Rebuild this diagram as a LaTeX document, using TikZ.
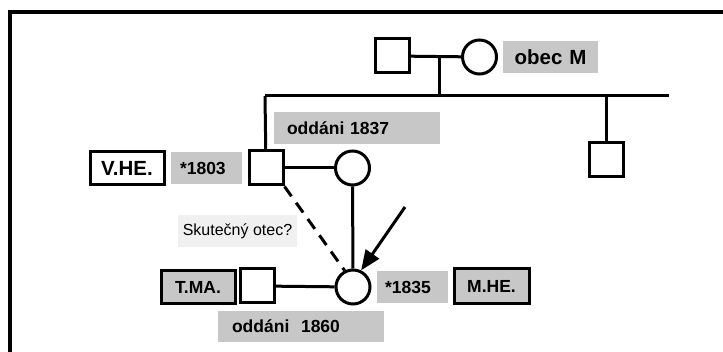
\documentclass[tikz,border=0pt]{standalone}
\usepackage{fontspec}
\setmainfont{Liberation Sans}
\usepackage{tikz}
\usetikzlibrary{arrows.meta,positioning,calc}

\begin{document}
\begin{tikzpicture}[
 x=1pt,y=-1pt,font=\fontsize{17.5}{20}\selectfont\bfseries,
 line width=3pt,
 male/.style={draw,rectangle,minimum size=34pt,inner sep=0pt},
 female/.style={draw,circle,minimum size=34pt,inner sep=0pt},
 tag/.style={fill=black!22,align=left,inner xsep=10pt,inner ysep=0pt,minimum height=32pt},
 namebox/.style={draw,line width=3pt,fill=white,align=center,minimum width=74pt,minimum height=33pt,inner sep=0pt},
 big/.style={font=\fontsize{20.5}{22}\selectfont\bfseries},
 hint/.style={fill=black!6,font=\fontsize{16}{18}\selectfont,minimum width=119pt,minimum height=32pt,inner sep=0pt},
 flow/.style={-{Triangle[length=20pt,width=16pt]}}]
\useasboundingbox (0,0) rectangle (723,352);
% frame
\draw[line width=4pt] (10,352) -- (10,12) -- (723,12);
% grandparents
\node[male] (gfather) at (392,56) {};
\node[female] (gmother) at (479.5,57) {};
\node[tag,big,text width=75pt,align=center] (obec) at (550.5,57) {obec M};
\draw (gfather) -- (gmother);
\coordinate (gmid) at (439,57);
\coordinate (sibmid) at (439,96);
\coordinate (sibl) at (265,96);
\coordinate (sibr) at (669,96);
\draw (gmid) -- (sibmid);
\draw (sibl) -- (sibr);
% children of the grandparents
\node[male] (father) at (266,168) {};
\node[male] (sibling) at (606,160) {};
\node[female] (mother) at (352.5,168) {};
\draw (sibl) -- (father);
\draw (sibling.north |- sibr) -- (sibling);
\draw (father) -- (mother);
\node[tag,inner xsep=13pt,text width=140pt] (wed1837) at (357,128) {odd\'ani 1837};
\node[namebox,big] (vhe) at (127,168.5) {V.HE.};
\node[tag,inner xsep=9pt,text width=53pt] (born1803) at (206.5,168) {*1803};
% daughter
\node[female] (daughter) at (353,287) {};
\node[male] (tma) at (257.5,286) {};
\node[namebox,fill=black!22] (tmaname) at (198,287) {T.MA.};
\node[tag,inner xsep=8pt,text width=55pt] (born1835) at (412.5,287) {*1835};
\node[namebox,fill=black!22,minimum width=75pt,minimum height=35pt] (mhe) at (491.5,286.5) {M.HE.};
\node[tag,inner xsep=14pt,text width=138pt,minimum height=31pt] (wed1860) at (301,326.5) {odd\'ani\ \ 1860};
\node[hint] (real) at (237.5,231) {Skute\v{c}n\'y otec?};
\draw (mother) -- (daughter);
\draw (tma) -- (daughter);
\draw[dash pattern=on 12pt off 8pt] (father.south east) -- (daughter.117);
\coordinate (pointer) at (405,207);
\draw[flow] (pointer) -- (daughter.64);
\end{tikzpicture}
\end{document}
